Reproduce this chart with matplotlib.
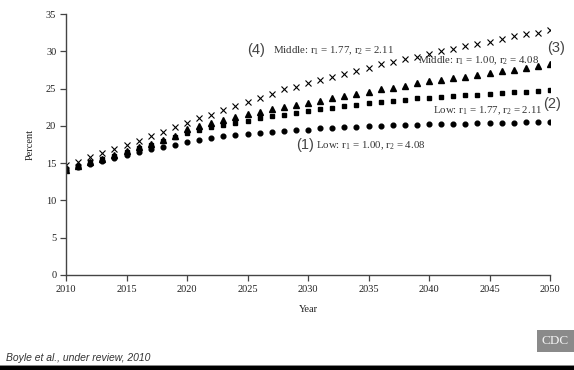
import matplotlib
matplotlib.use('Agg')
import matplotlib.pyplot as plt
from matplotlib.patches import Rectangle

years = list(range(2010, 2051))

# (1) Low: r1 = 1.00, r2 = 4.08
low_100_408 = [14.1, 14.5, 14.9, 15.3, 15.7, 16.1, 16.5, 16.9, 17.2, 17.5,
               17.9, 18.1, 18.4, 18.6, 18.8, 18.9, 19.1, 19.2, 19.35, 19.45,
               19.5, 19.65, 19.75, 19.8, 19.9, 19.95, 20.0, 20.05, 20.1, 20.15,
               20.2, 20.25, 20.3, 20.3, 20.35, 20.4, 20.4, 20.45, 20.5, 20.5,
               20.55]
# (2) Low: r1 = 1.77, r2 = 2.11
low_177_211 = [14.2, 14.6, 15.1, 15.5, 16.0, 16.5, 17.0, 17.5, 18.0, 18.5,
               19.0, 19.4, 19.8, 20.1, 20.4, 20.7, 21.0, 21.3, 21.5, 21.7,
               22.0, 22.2, 22.4, 22.6, 22.8, 23.0, 23.2, 23.4, 23.5, 23.7,
               23.8, 23.9, 24.0, 24.1, 24.2, 24.3, 24.4, 24.5, 24.6, 24.7,
               24.8]
# (3) Middle: r1 = 1.00, r2 = 4.08
mid_100_408 = [14.1, 14.6, 15.1, 15.6, 16.1, 16.6, 17.1, 17.6, 18.1, 18.7,
               19.6, 20.0, 20.4, 20.8, 21.2, 21.6, 21.9, 22.2, 22.5, 22.8,
               23.1, 23.4, 23.7, 24.0, 24.3, 24.6, 24.9, 25.1, 25.4, 25.7,
               26.0, 26.2, 26.4, 26.6, 26.8, 27.1, 27.3, 27.5, 27.8, 28.0,
               28.3]
# (4) Middle: r1 = 1.77, r2 = 2.11
mid_177_211 = [14.8, 15.2, 15.8, 16.3, 16.9, 17.4, 18.0, 18.6, 19.2, 19.8,
               20.4, 21.0, 21.5, 22.1, 22.6, 23.2, 23.7, 24.3, 24.9, 25.2,
               25.8, 26.1, 26.6, 27.0, 27.4, 27.8, 28.3, 28.6, 28.9, 29.3,
               29.7, 30.0, 30.3, 30.7, 31.0, 31.3, 31.6, 32.0, 32.3, 32.5,
               32.8]

x_ticks = [2010, 2015, 2020, 2025, 2030, 2035, 2040, 2045, 2050]
y_ticks = [0, 5, 10, 15, 20, 25, 30, 35]

plt.rcParams['mathtext.fontset'] = 'custom'
plt.rcParams['mathtext.rm'] = 'Liberation Serif'
serif = 'Liberation Serif'
sans = 'Liberation Sans'

fig = plt.figure(figsize=(5.74, 3.70), dpi=100)
ax = fig.add_axes([66 / 574, 1 - 275 / 370, 484 / 574, 261 / 370])

ax.plot(years, low_100_408, 'o', color='black', ms=3.4, ls='none')
ax.plot(years, low_177_211, 's', color='black', ms=3.2, ls='none')
ax.plot(years, mid_100_408, '^', color='black', ms=3.9, ls='none')
ax.plot(years, mid_177_211, 'x', color='black', ms=4.3, mew=0.8, ls='none')

ax.set_xlim(2010, 2050)
ax.set_ylim(0, 35)
ax.set_xticks(x_ticks)
ax.set_yticks(y_ticks)
for side in ('top', 'right'):
    ax.spines[side].set_visible(False)
for side in ('left', 'bottom'):
    ax.spines[side].set_color('#444444')
    ax.spines[side].set_linewidth(1.0)
ax.tick_params(direction='out', length=4, width=0.9, color='#444444',
               labelsize=7.5, labelcolor='#222222', pad=3)
for lbl in ax.get_xticklabels() + ax.get_yticklabels():
    lbl.set_fontfamily(serif)
ax.set_xlabel('Year', fontfamily=serif, fontsize=7.5, color='#222222', labelpad=8)
ax.set_ylabel('Percent', fontfamily=serif, fontsize=7.5, color='#222222', labelpad=8)

# scenario labels
lab_kw = dict(fontfamily=serif, fontsize=7.8, color='#333333', va='center', ha='left')
num_kw = dict(fontfamily=sans, fontsize=10.5, color='#444444', va='center', ha='left')
ax.text(2025.0, 30.2, '(4)', **num_kw)
ax.text(2027.1, 30.1, r'Middle: r$_\mathregular{1}$ = 1.77, r$_\mathregular{2}$ = 2.11', **lab_kw)
ax.text(2049.75, 30.4, '(3)', clip_on=False, **num_kw)
ax.text(2039.1, 28.7, r'Middle: r$_\mathregular{1}$ = 1.00, r$_\mathregular{2}$ = 4.08', **lab_kw)
ax.text(2049.4, 22.9, '(2)', clip_on=False, **num_kw)
ax.text(2040.3, 22.0, r'Low: r$_\mathregular{1}$ = 1.77, r$_\mathregular{2}$ = 2.11', **lab_kw)
ax.text(2029.0, 17.4, '(1)', **num_kw)
ax.text(2030.7, 17.3, r'Low: r$_\mathregular{1}$ = 1.00, r$_\mathregular{2}$ = 4.08', **lab_kw)

# footer: source, logo and bottom rule
fig.text(6 / 574, 1 - 358 / 370, 'Boyle et al., under review, 2010', fontfamily=sans,
         style='italic', fontsize=7.5, color='#333333', va='center', ha='left')
fig.patches.append(Rectangle((537 / 574, 1 - 352 / 370), 37 / 574, 22 / 370,
                             transform=fig.transFigure, facecolor='#8a8a8a',
                             edgecolor='none'))
fig.text(555 / 574, 1 - 341 / 370, 'CDC', fontfamily=serif, fontsize=9.5,
         color='#f2f2f2', va='center', ha='center')
fig.patches.append(Rectangle((0, 0), 1, 4 / 370, transform=fig.transFigure,
                             facecolor='black', edgecolor='none'))
fig.patches.append(Rectangle((0, 4 / 370), 1, 1 / 370, transform=fig.transFigure,
                             facecolor='#888888', edgecolor='none'))

fig.savefig('out.png', dpi=100)
